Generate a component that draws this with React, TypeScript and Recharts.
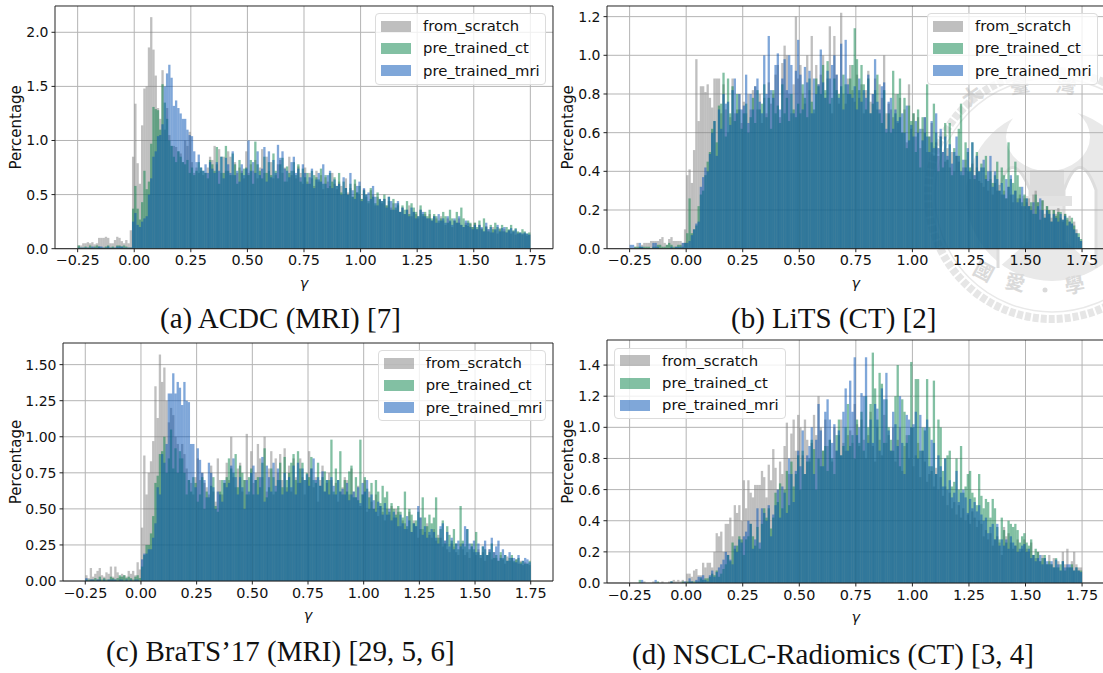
import React from "react";
import { BarChart, Bar, XAxis, YAxis, CartesianGrid, Legend, Label, ReferenceLine } from "recharts";

// Bin heights are in hundredths of a percent, 200 bins of width 0.01 from -0.25 to 1.75.
const A_SCRATCH = [3,3,5,5,6,5,6,4,5,10,10,10,11,10,5,5,8,11,10,7,5,8,5,17,
85,134,79,60,114,148,150,186,214,184,160,130,120,165,110,130,105,95,95,94,90,88,80,100,95,108,80,70,75,70,
72,68,70,75,85,82,95,78,92,70,85,72,90,85,68,80,70,75,72,65,
90,70,78,72,82,65,75,92,70,85,72,80,65,68,78,82,70,75,62,85,
68,72,65,76,70,60,75,62,70,65,58,72,62,68,55,66,62,58,70,60,
55,62,58,50,65,52,56,48,60,52,50,46,55,48,42,54,50,40,48,45,
42,46,40,44,38,42,36,40,34,38,32,36,40,30,34,32,28,36,30,32,
28,32,26,30,28,24,30,26,22,28,25,20,26,24,28,22,20,24,21,23,
20,24,18,22,19,16,21,18,15,20,17,14,19,16,18,15,17,14,16,13,15,14,13,14,12,13];
const A_CT = [3,1,1,2,1,3,1,2,3,2,1,1,2,3,1,2,1,3,3,2,3,2,1,1,
37,58,37,27,43,72,55,62,97,131,129,128,110,152,135,120,100,95,85,80,90,85,80,78,82,70,75,68,72,80,
75,72,70,65,82,78,72,94,60,85,70,95,72,68,88,78,60,82,70,74,
75,68,82,60,99,78,72,65,85,70,80,68,88,72,65,78,84,62,76,70,
72,80,68,78,62,74,66,70,60,72,68,66,64,74,60,68,56,70,62,66,
58,70,52,62,56,50,60,48,64,52,58,46,54,50,44,56,48,42,52,46,
44,50,40,48,36,46,38,42,34,40,36,44,32,42,38,34,30,40,32,34,
30,36,28,32,30,26,28,34,30,24,36,28,26,34,24,38,28,22,26,24,
20,24,20,26,18,28,20,16,22,18,24,20,18,22,16,20,18,22,17,19,16,15,18,16,14,15];
const A_MRI = [1,1,1,1,1,1,2,1,1,2,2,1,1,2,1,1,1,2,2,2,1,1,1,1,25,
33,22,20,25,28,30,50,65,85,90,104,105,115,150,162,170,158,132,137,130,125,120,120,110,105,104,90,80,87,75,
72,78,70,80,74,70,80,72,85,65,84,78,70,90,68,72,62,78,68,74,
100,72,80,70,90,68,74,94,62,90,66,82,70,96,84,90,74,72,66,80,
85,70,74,66,78,70,60,66,74,56,64,70,62,78,60,68,72,56,64,58,
60,50,66,56,50,70,54,46,58,62,44,56,50,52,46,58,48,40,46,44,
46,38,48,44,36,42,44,34,38,32,36,30,38,34,28,30,36,34,30,28,
28,26,30,24,32,26,28,24,30,26,22,28,24,30,22,20,26,24,20,18,
22,18,22,20,16,24,18,20,15,18,22,16,19,20,15,17,19,16,18,14,15,14,15,14,13];

const B_SCRATCH = [0,0,1,3,1,2,3,3,3,4,4,4,4,5,6,3,2,5,6,4,4,4,4,3,10,
38,41,34,51,98,66,84,84,81,85,78,73,88,88,88,70,85,72,60,68,88,70,72,80,65,76,70,80,72,82,
84,72,80,65,78,70,86,75,80,90,95,68,96,105,100,80,70,85,120,88,
95,80,75,100,82,110,70,95,85,90,100,78,88,115,70,110,90,75,122,80,
75,88,95,82,76,90,78,85,70,82,92,76,80,88,72,85,78,100,70,75,
72,68,80,65,78,60,72,55,85,62,70,58,68,52,62,68,50,58,65,48,
55,48,58,50,45,52,42,50,40,48,45,38,42,46,40,36,44,38,42,35,
34,32,38,30,36,28,34,30,33,28,30,26,32,28,24,30,26,28,22,26,
24,26,22,28,30,24,20,25,18,22,20,16,20,18,21,16,14,18,15,17,13,14,10,6,4];
const B_CT = [0,0,1,1,1,1,1,1,1,0,1,1,2,2,1,1,2,3,2,1,1,2,2,1,3,
8,26,8,10,12,22,28,30,38,45,50,62,66,55,74,75,91,58,88,70,84,66,80,72,62,70,75,60,68,78,
65,82,72,75,85,68,78,62,82,70,74,65,85,70,78,66,80,72,68,75,
70,85,78,68,88,76,72,88,84,80,95,82,97,75,78,88,82,80,84,90,
85,80,88,95,114,98,82,95,85,72,88,70,75,82,90,70,65,82,60,70,
60,92,70,80,88,60,78,52,74,66,70,50,72,42,68,60,85,58,55,75,
60,40,58,42,65,46,65,38,52,48,62,75,38,55,50,42,55,36,50,40,
44,42,48,35,40,34,38,45,30,42,38,26,55,36,34,45,38,32,24,28,
26,22,24,18,28,24,15,25,16,22,20,14,20,17,19,19,15,18,16,14,16,12,8,8,5];
const B_MRI = [2,2,0,0,3,1,0,0,0,0,3,3,1,0,0,0,0,0,1,0,1,1,1,3,3,
3,4,7,10,13,14,32,37,42,40,49,60,66,48,72,62,80,75,76,64,82,88,70,80,72,74,90,65,80,72,
84,88,76,70,100,80,110,82,78,95,101,72,88,98,82,100,95,70,92,108,
90,72,94,86,92,70,88,80,85,103,86,78,92,88,95,100,90,78,106,72,
108,85,80,78,84,72,88,76,82,78,90,70,80,98,76,72,84,86,62,76,
78,62,72,66,68,70,60,74,56,64,58,66,60,62,56,68,58,50,66,52,
70,52,62,50,58,48,54,44,50,58,48,40,46,42,52,40,55,38,48,40,
42,46,36,40,48,32,40,36,30,34,28,36,32,38,28,30,24,26,32,22,
26,22,20,24,18,22,26,20,16,20,18,14,18,16,14,18,15,17,12,14,13,10,8,6,4];

const C_SCRATCH = [4,2,9,3,5,7,9,4,3,6,5,10,3,10,6,3,5,4,3,7,5,7,4,13,8,
37,87,60,75,83,97,135,113,157,138,148,125,110,120,115,100,95,85,95,88,78,70,68,60,72,85,70,75,68,65,
60,80,62,55,85,70,60,68,82,70,100,72,65,78,82,62,70,102,60,90,
68,75,95,85,72,100,62,78,90,60,85,75,88,70,92,65,80,62,85,72,
68,85,72,60,70,90,78,65,72,55,70,80,62,68,75,70,60,68,55,62,
65,72,70,60,78,62,58,66,52,60,70,48,62,55,50,60,45,52,48,42,
50,46,52,44,50,48,38,42,40,36,48,34,42,38,30,44,36,34,40,32,
30,36,28,32,30,24,28,22,20,26,24,20,18,26,22,18,20,16,24,20,
18,22,16,20,14,18,22,15,20,16,14,18,15,12,17,14,16,13,15,12,14,11,13,12,11];
const C_CT = [1,1,1,1,2,1,3,1,2,1,1,3,2,1,2,4,3,4,2,3,2,1,3,4,2,
10,18,25,25,33,45,68,73,88,90,100,75,85,105,78,92,75,90,85,75,60,70,62,72,68,55,60,72,50,62,
58,66,72,52,48,62,70,68,72,85,78,75,88,65,80,75,70,60,72,78,
60,70,72,65,82,92,58,65,78,72,62,70,82,65,86,70,75,82,88,70,
90,78,82,70,75,72,86,70,68,82,66,72,76,70,70,98,62,78,70,90,
60,70,62,76,80,58,72,56,98,60,72,64,58,68,50,70,62,54,66,58,
62,48,54,50,46,52,48,44,62,38,50,46,40,42,48,36,58,44,38,46,
40,44,58,30,36,42,26,38,32,28,36,26,22,52,28,24,36,22,26,22,
34,20,18,24,22,18,20,26,16,18,14,20,16,18,14,16,18,14,15,16,13,14,12,12,14];
const C_MRI = [2,0,1,1,0,1,1,0,1,0,1,1,1,1,0,1,1,0,1,0,1,0,1,1,0,
15,19,19,22,22,30,40,65,60,88,82,95,130,130,144,130,138,134,122,138,125,124,95,95,65,92,84,75,70,58,
82,75,65,50,62,60,55,70,65,68,80,85,72,60,72,65,50,70,62,75,
80,70,60,72,86,55,80,72,62,82,66,78,70,60,75,62,72,65,80,60,
82,68,78,70,74,66,78,85,70,72,66,76,62,70,60,72,66,60,70,62,
64,60,68,56,60,62,58,65,54,68,62,70,50,60,56,48,55,52,46,54,
46,50,42,48,44,38,46,40,36,45,42,34,40,38,52,44,32,38,30,34,
36,34,30,26,38,40,28,34,24,30,22,26,28,24,26,38,36,26,24,28,
20,26,18,24,28,18,22,30,20,24,28,16,22,18,14,20,16,16,13,18,12,14,16,15,13];

const D_SCRATCH = [0,0,0,0,0,0,1,0,0,0,1,0,0,0,1,0,0,1,1,2,1,2,1,2,1,
6,6,4,8,9,5,5,13,10,13,13,10,20,32,30,33,20,38,38,42,30,50,45,50,40,66,48,66,58,55,
63,63,63,72,68,55,76,66,86,74,60,78,70,88,103,70,96,105,85,108,
100,82,105,92,78,90,108,95,120,100,85,105,88,92,78,100,85,95,105,90,
85,95,98,90,115,102,88,105,92,80,95,110,88,78,100,92,82,108,90,95,
85,100,78,92,100,72,88,95,80,100,75,82,90,68,85,78,65,70,72,62,
74,60,68,56,62,50,58,48,52,44,50,42,48,40,44,38,46,42,36,40,
38,30,34,28,32,24,28,30,26,18,36,30,32,26,22,24,28,20,22,28,
22,20,26,18,16,20,14,18,16,12,18,12,16,10,14,8,20,12,22,10,14,20,12,10,10];
const D_CT = [0,0,0,0,2,0,0,0,0,0,0,0,1,0,0,0,0,0,1,0,0,0,0,1,0,
1,1,1,1,1,1,3,2,3,3,4,6,5,8,4,6,9,12,18,14,26,22,24,30,28,18,28,30,38,30,
24,36,22,38,48,42,48,35,42,58,52,64,48,60,72,50,78,62,70,82,
60,85,70,78,80,92,86,60,80,75,85,88,72,92,80,70,95,105,82,88,
100,115,88,95,80,105,90,110,85,120,100,115,148,125,105,135,128,90,118,100,
92,85,120,140,75,118,110,90,95,142,100,131,131,85,100,98,131,100,75,130,
70,105,100,72,80,82,85,62,65,80,60,88,58,62,70,72,58,55,50,70,
56,48,54,52,42,54,48,36,28,42,34,26,40,38,36,38,34,26,30,32,
26,24,28,18,22,20,14,16,18,12,14,12,10,16,10,12,14,8,10,10,12,8,10,8,8];
const D_MRI = [0,0,0,0,0,2,0,0,0,0,0,2,0,0,0,0,0,0,1,0,0,0,0,0,1,
0,3,1,0,2,4,4,5,2,1,5,8,4,7,10,12,15,20,18,15,12,24,20,28,26,30,33,40,38,22,
28,48,26,48,45,40,50,30,44,50,60,42,62,58,45,80,70,52,72,85,
75,98,70,82,88,100,70,92,115,98,75,110,118,105,90,102,85,98,82,110,
125,85,130,110,145,95,100,122,120,145,90,105,90,115,112,85,125,118,135,98,
85,110,102,88,120,90,70,108,105,100,102,110,80,108,85,100,105,75,92,90,
70,82,75,62,80,60,66,55,58,72,52,58,60,55,45,54,48,52,46,50,
44,40,42,32,36,38,28,38,24,28,24,28,22,30,26,24,20,22,24,25,
20,22,16,18,14,16,18,12,16,14,12,14,10,15,12,8,14,10,12,12,10,8,10,8,7];

const X_TICKS = [-0.25, 0, 0.25, 0.5, 0.75, 1, 1.25, 1.5, 1.75];
const Y_TICKS_A = [0, 0.5, 1, 1.5, 2];
const Y_TICKS_B = [0, 0.2, 0.4, 0.6, 0.8, 1, 1.2];
const Y_TICKS_C = [0, 0.25, 0.5, 0.75, 1, 1.25, 1.5];
const Y_TICKS_D = [0, 0.2, 0.4, 0.6, 0.8, 1, 1.2, 1.4];
const SERIES = ["from_scratch", "pre_trained_ct", "pre_trained_mri"];
const COLORS = ["#808080", "#058147", "#004fb3"];
const FONT = "'DejaVu Sans', sans-serif";
const X_DOMAIN = [-0.35, 1.85];

function table(scratch: number[], ct: number[], mri: number[]) {
  return scratch.map((v, i) => ({
    x: -0.245 + i * 0.01,
    from_scratch: v / 100,
    pre_trained_ct: (ct[i] ?? 0) / 100,
    pre_trained_mri: (mri[i] ?? 0) / 100,
  }));
}

const fmtX = (v: number) => (v < 0 ? "\u2212" : "") + Math.abs(v).toFixed(2);

// Neighbouring bars of the reference overlap by a fraction of a pixel, which gives its darker stripes.
const OverlapBar = (p: any) =>
  p.height > 0 ? <rect x={p.x} y={p.y} width={p.width + 0.3} height={p.height} fill={p.fill} fillOpacity={0.5} /> : <g />;

function LegendBox() {
  return (
    <div style={{ width: "100%", height: "100%", boxSizing: "border-box", background: "rgba(255,255,255,0.8)", border: "1px solid #dcdcdc", borderRadius: 4, fontFamily: FONT, fontSize: 14.8, lineHeight: "22px", color: "#111", paddingTop: 1, textAlign: "left" }}>
      {SERIES.map((s, i) => (
        <div key={s} style={{ display: "flex", alignItems: "center", height: 22.3 }}>
          <span style={{ display: "inline-block", width: 30, height: 11, marginLeft: 5, marginRight: 12, background: COLORS[i], opacity: 0.5 }} />
          <span>{s}</span>
        </div>
      ))}
    </div>
  );
}

function Hist({ left, top, w, h, yTicks, yMax, yFmt, data, legend, labelInset }: any) {
  const leftM = 60;
  const bottomM = 50;
  return (
    <div style={{ position: "absolute", left: left - leftM, top: top - 4, width: w + leftM + 4, height: h + bottomM + 4 }}>
      <BarChart width={w + leftM + 4} height={h + bottomM + 4} data={data} barCategoryGap={0} margin={{ top: 4, right: 4, left: 0, bottom: 0 }}>
        <CartesianGrid stroke="#b4b4b4" strokeWidth={1} horizontalValues={yTicks} verticalValues={X_TICKS} xAxisId="main" yAxisId="main" />
        <XAxis xAxisId="main" dataKey="x" type="number" domain={X_DOMAIN} ticks={X_TICKS} tickFormatter={fmtX} allowDataOverflow height={bottomM} stroke="#222" interval={0} tick={{ fontFamily: FONT, fontSize: 14.4, fill: "#111" }} tickSize={3.5} tickMargin={3}>
          <Label value="γ" position="insideBottom" offset={11} style={{ fontFamily: FONT, fontStyle: "italic", fontSize: 14.4, fill: "#111" }} />
        </XAxis>
        <XAxis xAxisId="s2" dataKey="x" type="number" domain={X_DOMAIN} hide allowDataOverflow />
        <XAxis xAxisId="s3" dataKey="x" type="number" domain={X_DOMAIN} hide allowDataOverflow />
        <YAxis yAxisId="main" domain={[0, yMax]} ticks={yTicks} allowDataOverflow width={leftM} stroke="#222" interval={0} tickFormatter={yFmt} tick={{ fontFamily: FONT, fontSize: 14, fill: "#111" }} tickSize={3.5} tickMargin={3}>
          <Label value="Percentage" angle={-90} position="insideLeft" offset={labelInset} style={{ fontFamily: FONT, fontSize: 15, fill: "#111", textAnchor: "middle" }} />
        </YAxis>
        <Bar xAxisId="main" yAxisId="main" dataKey="from_scratch" fill={COLORS[0]} shape={OverlapBar} isAnimationActive={false} />
        <Bar xAxisId="s2" yAxisId="main" dataKey="pre_trained_ct" fill={COLORS[1]} shape={OverlapBar} isAnimationActive={false} />
        <Bar xAxisId="s3" yAxisId="main" dataKey="pre_trained_mri" fill={COLORS[2]} shape={OverlapBar} isAnimationActive={false} />
        <ReferenceLine xAxisId="main" yAxisId="main" x={1.85} stroke="#222" ifOverflow="visible" />
        <ReferenceLine xAxisId="main" yAxisId="main" y={yMax} stroke="#222" ifOverflow="visible" />
        <Legend content={() => <LegendBox />} layout="vertical" align="center" verticalAlign="middle" wrapperStyle={{ position: "absolute", left: legend.x - left + leftM, top: legend.y - top + 4, width: legend.w, height: legend.h, margin: 0 }} />
      </BarChart>
    </div>
  );
}

const Caption = ({ x, y, children }: any) => (
  <div style={{ position: "absolute", left: x, top: y, fontFamily: "'Liberation Serif', serif", fontSize: 29, lineHeight: "32px", color: "#111", whiteSpace: "nowrap" }}>{children}</div>
);

const SEAL_CHARS = [
  { c: "大", x: 973, y: 97, r: -35 },
  { c: "臺", x: 1020, y: 87, r: -10 },
  { c: "灣", x: 1066, y: 87, r: 8 },
  { c: "國", x: 983, y: 273, r: 28 },
  { c: "愛", x: 1015, y: 284, r: 12 },
  { c: "學", x: 1075, y: 287, r: -10 },
];

function Seal() {
  const cx = 1052, cy = 195;
  return (
    <svg width={1103} height={673} style={{ position: "absolute", left: 0, top: 0 }}>
      <circle cx={cx} cy={cy} r={124} fill="none" stroke="#e6e6e6" strokeWidth={8} strokeDasharray="6 2" />
      <circle cx={cx} cy={cy} r={117} fill="none" stroke="#e9e9e9" strokeWidth={1.5} />
      <circle cx={cx} cy={cy} r={86} fill="#e9e9e9" />
      <ellipse cx={cx - 4} cy={cy - 58} rx={42} ry={34} fill="#fff" />
      <path d="M 998 268 L 998 190 Q 1012 145 1030 190 L 1030 240 M 1064 240 L 1064 190 Q 1080 145 1096 190 L 1096 268" fill="#fff" stroke="#dddddd" strokeWidth={3} />
      <rect x={1030} y={170} width={34} height={26} fill="#dcdcdc" />
      <rect x={1022} y={196} width={50} height={10} fill="#e2e2e2" />
      {SEAL_CHARS.map((s) => (
        <text key={s.c} x={s.x} y={s.y} textAnchor="middle" dominantBaseline="middle" transform={`rotate(${s.r} ${s.x} ${s.y})`} fontFamily="'Noto Sans CJK TC'" fontSize={20} fontWeight={700} fill="#dadada">{s.c}</text>
      ))}
      <circle cx={1045} cy={290} r={2.5} fill="#dadada" />
    </svg>
  );
}

export default function App() {
  return (
    <div style={{ position: "absolute", left: 0, top: 0, width: 1103, height: 673, overflow: "hidden", background: "#fff" }}>
      <Seal />
      <Hist left={55} top={6} w={498} h={242.7} yTicks={Y_TICKS_A} yMax={2.243} yFmt={(v: number) => v.toFixed(1)} data={table(A_SCRATCH, A_CT, A_MRI)} legend={{ x: 375, y: 13, w: 171, h: 72 }} labelInset={21} />
      <Hist left={607.3} top={6} w={497.7} h={242.7} yTicks={Y_TICKS_B} yMax={1.255} yFmt={(v: number) => v.toFixed(1)} data={table(B_SCRATCH, B_CT, B_MRI)} legend={{ x: 927, y: 13, w: 171, h: 72 }} labelInset={21} />
      <Hist left={63.3} top={343.3} w={490} h={238} yTicks={Y_TICKS_C} yMax={1.65} yFmt={(v: number) => v.toFixed(2)} data={table(C_SCRATCH, C_CT, C_MRI)} legend={{ x: 377.7, y: 350, w: 168.5, h: 71 }} labelInset={13} />
      <Hist left={607.3} top={340.3} w={497.7} h={243} yTicks={Y_TICKS_D} yMax={1.561} yFmt={(v: number) => v.toFixed(1)} data={table(D_SCRATCH, D_CT, D_MRI)} legend={{ x: 614, y: 347.7, w: 172, h: 71.5 }} labelInset={21} />
      <Caption x={160} y={302}>(a) ACDC (MRI) [7]</Caption>
      <Caption x={731} y={302}>(b) LiTS (CT) [2]</Caption>
      <Caption x={106} y={635}>(c) BraTS’17 (MRI) [29, 5, 6]</Caption>
      <Caption x={632} y={638}>(d) NSCLC-Radiomics (CT) [3, 4]</Caption>
    </div>
  );
}
